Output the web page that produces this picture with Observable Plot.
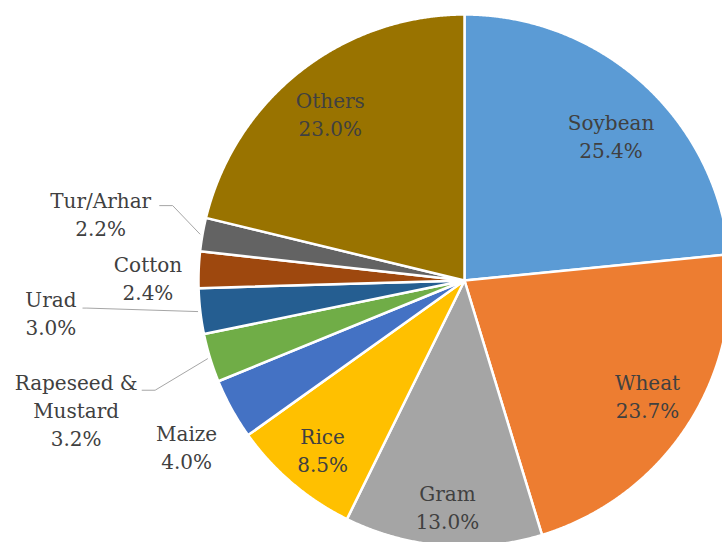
<!DOCTYPE html>
<html><head><meta charset="utf-8">
<script src="https://cdn.jsdelivr.net/npm/d3@7"></script>
<script src="https://cdn.jsdelivr.net/npm/@observablehq/plot@0.6"></script>
<style>html,body{margin:0;padding:0;background:#fff;overflow:hidden}</style>
</head><body><div id="chart"></div>
<script>
// ---- data ----
const crops = ["Soybean","Wheat","Gram","Rice","Maize","Rapeseed & Mustard","Urad","Cotton","Tur/Arhar","Others"];
const shares = [25.4,23.7,13.0,8.5,4.0,3.2,3.0,2.4,2.2,23.0];
const labelNames = ["Soybean","Wheat","Gram","Rice","Maize","Rapeseed &\nMustard","Urad","Cotton","Tur/Arhar","Others"];
const colors = ["#5B9BD5","#ED7D31","#A5A5A5","#FFC000","#4472C4","#70AD47","#255E91","#9E480E","#636363","#997300"];

// ---- layout (not data) ----
const W = 722, H = 542, CX = 464, CY = 280, R = 266;
const labelLayout = [
  {k:0.77, da:3.5},   // Soybean
  {k:0.815, da:-1.3}, // Wheat
  {k:0.857, da:-0.35},// Gram
  {k:0.835, da:-0.65},// Rice
  {k:1.22, da:-2.2},  // Maize
  {k:1.54, da:-1.6, leader:{elbow:[79,-20.5], end:[66,-20.5]}}, // Rapeseed
  {k:1.56, da:2.0, leader:{elbow:[36,-6], end:[32,-6]}},        // Urad
  {k:1.19, da:-2.1},  // Cotton
  {k:1.39, da:0.3, leader:{elbow:[72,-9], end:[59,-9]}},        // Tur/Arhar
  {k:0.8, da:-0.9}    // Others
];

const arcs = d3.pie().sort(null).value(d => d)(shares);
const polar = (a, r) => [CX + r * Math.sin(a), CY - r * Math.cos(a)];
const rad = Math.PI / 180;

const slicePts = [];
arcs.forEach((a, i) => {
  const name = crops[i];
  slicePts.push({name, x: CX, y: CY});
  const n = Math.max(2, Math.ceil((a.endAngle - a.startAngle) / (0.25 * rad)));
  for (let j = 0; j <= n; j++) {
    const t = a.startAngle + (a.endAngle - a.startAngle) * j / n;
    const [x, y] = polar(t, R);
    slicePts.push({name, x, y});
  }
});

const labels = [];
const leaders = [];
arcs.forEach((a, i) => {
  const L = labelLayout[i];
  const mid = (a.startAngle + a.endAngle) / 2;
  const [x, y] = polar(mid + L.da * rad, R * L.k);
  labels.push({name: crops[i], x, y, text: labelNames[i] + "\n" + shares[i].toFixed(1) + "%"});
  if (L.leader) {
    const [sx, sy] = polar(mid, R * 1.01);
    leaders.push({name: crops[i], x: sx, y: sy});
    leaders.push({name: crops[i], x: x + L.leader.elbow[0], y: y + L.leader.elbow[1]});
    leaders.push({name: crops[i], x: x + L.leader.end[0], y: y + L.leader.end[1]});
  }
});

const chart = Plot.plot({
  width: W, height: H,
  margin: 0,
  x: {domain: [0, W], range: [0, W], axis: null},
  y: {domain: [0, H], range: [0, H], axis: null},
  color: {domain: crops, range: colors},
  style: {background: "#fff", overflow: "hidden"},
  marks: [
    Plot.line(slicePts, {x: "x", y: "y", z: "name", fill: "name", stroke: "#fff", strokeWidth: 2.5, strokeLinejoin: "round", curve: "linear-closed"}),
    Plot.line(leaders, {x: "x", y: "y", z: "name", stroke: "#A6A6A6", strokeWidth: 1}),
    Plot.text(labels, {x: "x", y: "y", dy: -2, text: "text", fontSize: 20, fontFamily: "DejaVu Serif", fill: "#404040", lineHeight: 1.4})
  ]
});
document.getElementById("chart").append(chart);
</script>
</body></html>
